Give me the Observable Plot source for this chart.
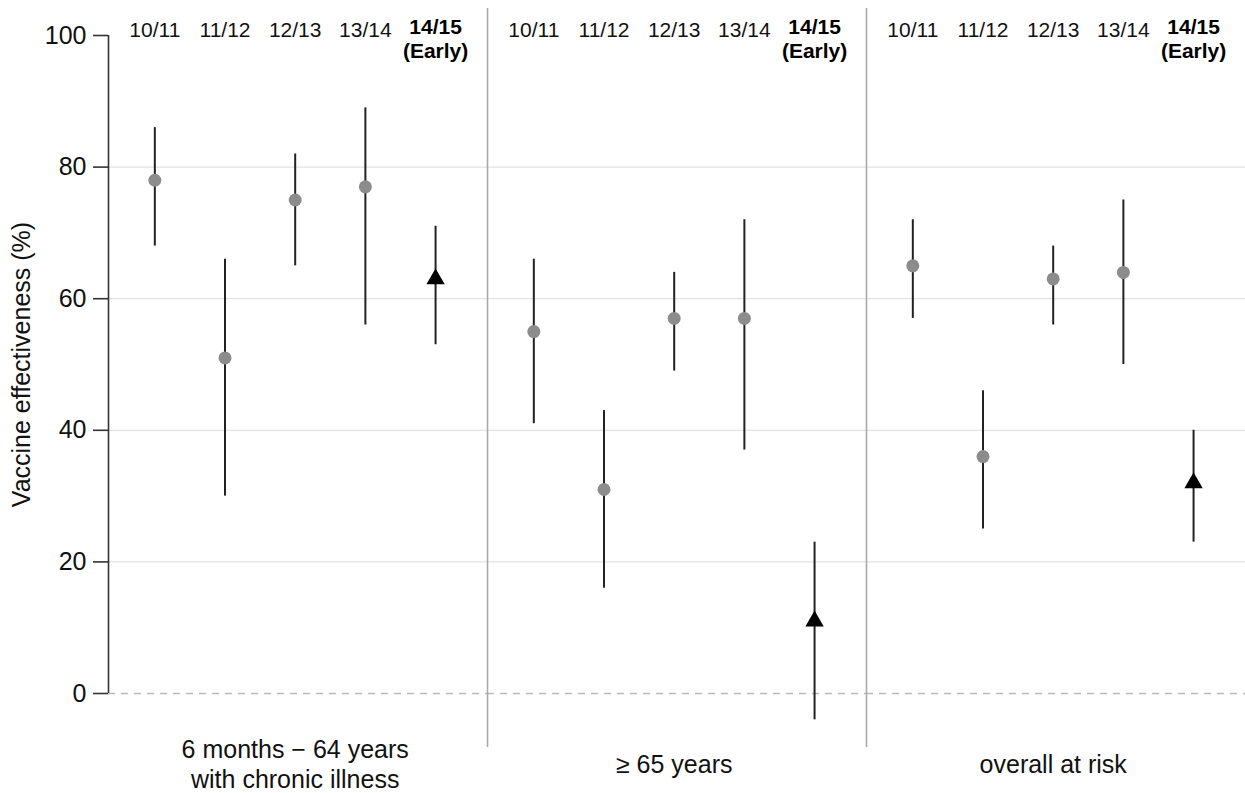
<!DOCTYPE html>
<html>
<head>
<meta charset="utf-8">
<script src="https://cdn.jsdelivr.net/npm/d3@7"></script>
<script src="https://cdn.jsdelivr.net/npm/@observablehq/plot@0.6"></script>
<style>
  html, body { margin: 0; padding: 0; background: #fff; }
</style>
</head>
<body>
<div id="chart"></div>
<script>
// ---- data ----
const panels = ["6 months \u2212 64 years\nwith chronic illness", "\u2265 65 years", "overall at risk"];
const seasons = ["10/11", "11/12", "12/13", "13/14", "14/15\n(Early)"];
const earlySeason = "14/15\n(Early)";
const estimate = [
  [78, 51, 75, 77, 63],
  [55, 31, 57, 57, 11],
  [65, 36, 63, 64, 32]
];
const lower = [
  [68, 30, 65, 56, 53],
  [41, 16, 49, 37, -4],
  [57, 25, 56, 50, 23]
];
const upper = [
  [86, 66, 82, 89, 71],
  [66, 43, 64, 72, 23],
  [72, 46, 68, 75, 40]
];
const yTicks = [0, 20, 40, 60, 80, 100];
const gridValues = [20, 40, 60, 80];

// table built from the arrays
const rows = [];
panels.forEach((p, i) => seasons.forEach((s, j) => rows.push({
  panel: p, season: s, idx: j,
  ve: estimate[i][j], lo: lower[i][j], hi: upper[i][j],
  early: s === earlySeason
})));
const seasonRows = seasons.map((s, j) => ({season: s, idx: j, early: s === earlySeason}));
const panelRows = panels.map(p => ({panel: p}));

const font = "'Liberation Sans', Arial, Helvetica, sans-serif";

const chart = Plot.plot({
  width: 1245,
  height: 793,
  marginTop: 35,
  marginBottom: 100,
  marginLeft: 108,
  marginRight: 0,
  style: {fontFamily: font, fontSize: "25px", color: "#111", background: "#fff"},
  fx: {domain: panels, padding: 0, axis: null},
  x: {domain: [-0.66, 4.74], axis: null},
  y: {
    domain: [0, 100],
    ticks: yTicks,
    tickSize: 15,
    tickPadding: 7,
    label: "Vaccine effectiveness (%)",
    labelAnchor: "center",
    labelArrow: "none",
    labelOffset: 96
  },
  marks: [
    Plot.ruleY(gridValues, {stroke: "#dcdcdc", strokeWidth: 1}),
    Plot.ruleY([0], {stroke: "#bbbbbb", strokeWidth: 1.6, strokeDasharray: "7,6"}),
    // panel separators at the right edge of panels 1 and 2
    Plot.ruleX(panelRows.slice(0, 2), {fx: "panel", x: () => 4.74, y1: () => 104.1, y2: () => -8.2, stroke: "#aaaaaa", strokeWidth: 1.6}),
    // y axis line in first panel
    Plot.ruleX(panelRows.slice(0, 1), {fx: "panel", x: () => -0.66, y1: () => 0, y2: () => 100, stroke: "#333", strokeWidth: 1.6}),
    Plot.axisY({ticks: yTicks, tickSize: 15, tickPadding: 7, stroke: "#333", strokeWidth: 1.6, fill: "#111", label: "Vaccine effectiveness (%)", labelAnchor: "center", labelArrow: "none", labelOffset: 96}),
    // confidence intervals
    Plot.ruleX(rows, {fx: "panel", x: "idx", y1: "lo", y2: "hi", stroke: "#222", strokeWidth: 2}),
    // estimates
    Plot.dot(rows.filter(d => !d.early), {fx: "panel", x: "idx", y: "ve", r: 6.5, fill: "#8c8c8c", stroke: "none"}),
    Plot.dot(rows.filter(d => d.early), {fx: "panel", x: "idx", y: "ve", symbol: "triangle", r: 6.8, fill: "#000", stroke: "none"}),
    // season labels at top
    Plot.text(seasonRows.filter(d => !d.early), {x: "idx", text: "season", frameAnchor: "top", dy: -5, lineAnchor: "middle", fontSize: 21, fill: "#111"}),
    Plot.text(seasonRows.filter(d => d.early), {x: "idx", text: "season", frameAnchor: "top", dy: 3, lineAnchor: "middle", fontSize: 21, fontWeight: "bold", lineHeight: 1.15, fill: "#000"}),
    // panel labels at bottom
    Plot.text(panelRows, {fx: "panel", x: () => 2, text: "panel", frameAnchor: "bottom", dy: 70, lineAnchor: "middle", fontSize: 25, lineHeight: 1.2, fill: "#111"})
  ]
});
document.getElementById("chart").appendChild(chart);
</script>
</body>
</html>
